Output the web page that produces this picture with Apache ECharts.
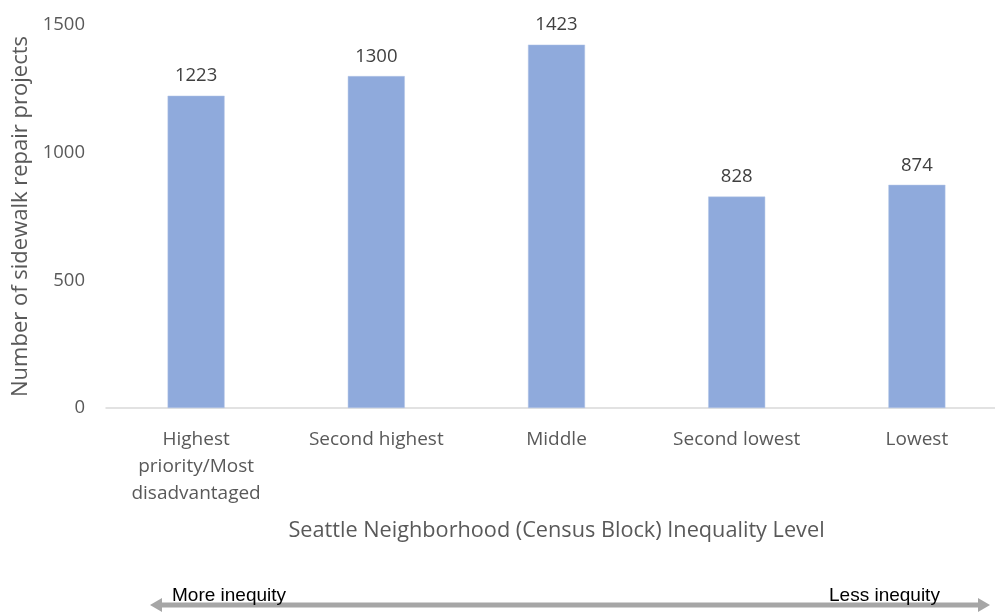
<!DOCTYPE html>
<html><head><meta charset="utf-8">
<script src="https://cdn.jsdelivr.net/npm/echarts@6/dist/echarts.min.js"></script>
<style>html,body{margin:0;padding:0;background:#fff;overflow:hidden}#c{width:1007px;height:612px}</style>
</head><body><div id="c"></div>
<script>
const categories = ['Highest\npriority/Most\ndisadvantaged', 'Second highest', 'Middle', 'Second lowest', 'Lowest'];
const values = [1223, 1300, 1423, 828, 874];
const yTicks = [0, 500, 1000, 1500];
const font = '"Open Sans", "Noto Sans", sans-serif';
const chart = echarts.init(document.getElementById('c'));
chart.setOption({
  animation: false,
  grid: {left: 106, top: 25, right: 0, height: 383, containLabel: false, outerBoundsMode: 'none'},
  xAxis: {
    type: 'category', data: categories,
    axisLine: {lineStyle: {color: '#d9d9d9', width: 1.5}},
    axisTick: {show: false},
    axisLabel: {fontFamily: font, fontSize: 19, color: '#595959', lineHeight: 27, margin: 18, interval: 0},
    name: 'Seattle Neighborhood (Census Block) Inequality Level',
    nameLocation: 'middle', nameGap: 112,
    nameTextStyle: {fontFamily: font, fontSize: 21.7, color: '#595959'}
  },
  yAxis: {
    type: 'value', min: 0, max: 1500, interval: 500,
    axisLine: {show: false}, axisTick: {show: false}, splitLine: {show: false},
    axisLabel: {fontFamily: font, fontSize: 18.5, color: '#595959', margin: 21,
      formatter: v => yTicks.includes(v) ? String(v) : ''},
    name: 'Number of sidewalk repair projects', nameLocation: 'middle', nameGap: 73,
    nameTextStyle: {fontFamily: font, fontSize: 22, color: '#595959'}
  },
  series: [{
    type: 'bar', data: values, barWidth: 57,
    itemStyle: {color: '#8faadc', borderColor: '#b4c7e7', borderWidth: 0.5},
    label: {show: true, position: 'top', distance: 10, fontFamily: font, fontSize: 18.5, color: '#404040'}
  }],
  graphic: [
    {type: 'line', shape: {x1: 158, y1: 605, x2: 982, y2: 605}, style: {stroke: '#a6a6a6', lineWidth: 5}},
    {type: 'polygon', shape: {points: [[150, 605], [162, 598], [162, 612]]}, style: {fill: '#a6a6a6'}},
    {type: 'polygon', shape: {points: [[990, 605], [978, 598], [978, 612]]}, style: {fill: '#a6a6a6'}},
    {type: 'text', left: 172, top: 586, style: {text: 'More inequity', font: '19px "Liberation Sans Narrow", "Liberation Sans", sans-serif', fill: '#000'}},
    {type: 'text', left: 829, top: 586, style: {text: 'Less inequity', font: '19px "Liberation Sans Narrow", "Liberation Sans", sans-serif', fill: '#000'}}
  ]
});
</script></body></html>
